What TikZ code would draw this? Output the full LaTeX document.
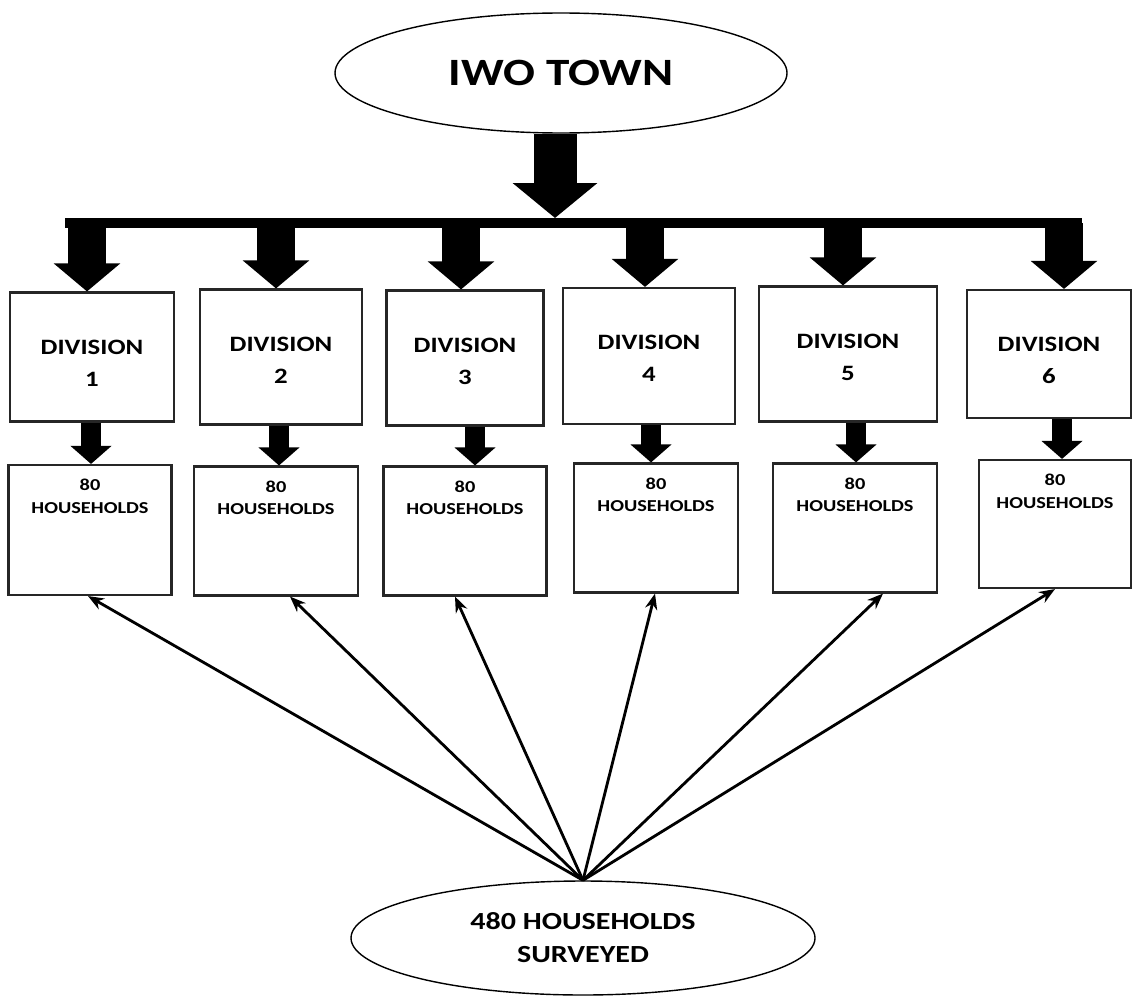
\documentclass[tikz,border=0pt]{standalone}
\usepackage{fontspec}
\setmainfont{Carlito}[FakeStretch=1.22]
\usetikzlibrary{shapes, arrows.meta, calc, positioning}
\definecolor{boxline}{rgb}{0.15, 0.15, 0.15}

\begin{document}
\begin{tikzpicture}[x=0.02cm, y=-0.02cm, every node/.style={font=\bfseries},
    divbox/.style={draw=boxline, line width=1.2pt, inner sep=0pt},
    hhbox/.style={draw=boxline, line width=1.2pt, inner sep=0pt},
    oval/.style={draw, ellipse, line width=0.8pt, align=center},
    bigarrow/.style={line width=0.86cm, -{Triangle[width=1.66cm, length=0.7cm]}},
    divarrow/.style={line width=0.76cm, -{Triangle[width=1.3cm, length=0.56cm]}},
    smallarrow/.style={line width=0.4cm, -{Triangle[width=0.8cm, length=0.36cm]}},
    survey/.style={line width=1.6pt, -{Stealth[length=9pt, width=7pt]}}]
        \useasboundingbox (0,0) rectangle (1132,997);

        % town and the bar under it
        \node[oval, minimum width=452*0.02cm, minimum height=120*0.02cm, font=\bfseries\fontsize{22}{26}\selectfont] (town) at (561,73) {IWO TOWN};
        \coordinate (barL) at (65,223);
        \coordinate (barR) at (1082,223);
        \draw[line width=0.2cm] (barL) -- (barR);
        \draw[bigarrow] (town.south -| 555,0) -- (555,218);

        \node[oval, minimum width=464*0.02cm, minimum height=114*0.02cm, font=\bfseries\fontsize{14}{18.8}\selectfont] (sv) at (583,938) {480 HOUSEHOLDS\\SURVEYED};

        % divisions
        \foreach \n/\cx/\cy/\w/\h/\ax in {1/92/357/164/129/87, 2/281/357/162/135/276, 3/465/358/157/135/461,
                                         4/649/356/172/136/645, 5/848/354/178/135/843, 6/1049/354/164/128/1064}{
            \node[divbox, minimum width=\w*0.02cm] (d\n) at (\cx,\cy)
                {\parbox[c][\dimexpr0.02cm*\h\relax][t]{2.8cm}{\centering\fontsize{12.5}{18.2}\selectfont\vspace*{27pt}DIVISION\\\n\par}};
            \draw[divarrow] (\ax,223) -- (\ax,0 |- d\n.north);
        }

        % households
        \foreach \n/\cx/\cy/\w/\h/\sx/\ex in {1/90/530/163/130/91/88, 2/276/531/164/129/279/290, 3/465/531/163/129/475/455,
                                             4/656/528/164/129/651/655, 5/855/528/164/129/856/883, 6/1055/524/152/128/1062/1055}{
            \node[hhbox, minimum width=\w*0.02cm] (h\n) at (\cx,\cy)
                {\parbox[c][\dimexpr0.02cm*\h\relax][t]{2.8cm}{\centering\fontsize{9.5}{13}\selectfont\vspace*{8pt}80\\HOUSEHOLDS\par}};
            \draw[smallarrow] (\sx,0 |- d\n.south) -- (\sx,0 |- h\n.north);
            \draw[survey] (sv.north) -- (\ex,0 |- h\n.south);
        }
    \end{tikzpicture}
\end{document}
